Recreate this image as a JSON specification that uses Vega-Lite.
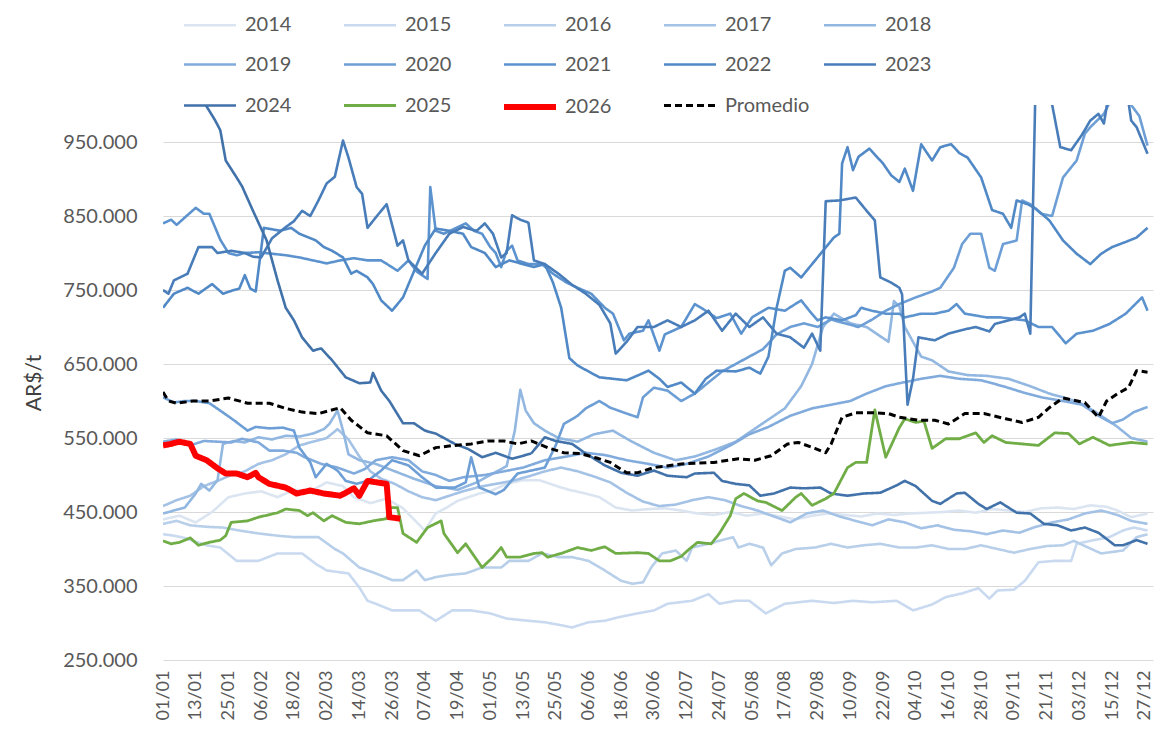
{
  "$schema": "https://vega.github.io/schema/vega-lite/v6.json",
  "width": 990,
  "height": 555,
  "autosize": {"type": "none"},
  "padding": {"left": 163, "top": 105, "right": 2, "bottom": 75},
  "background": "white",
  "config": {
    "font": "Lato",
    "view": {"stroke": null},
    "axis": {"labelFont": "Lato", "titleFont": "Lato"},
    "legend": {"labelFont": "Lato"}
  },
  "data": {"values": [
{"s":"2014","d":0,"v":440000},{"s":"2014","d":6,"v":445000},{"s":"2014","d":12,"v":436000},{"s":"2014","d":18,"v":450000},{"s":"2014","d":24,"v":470000},{"s":"2014","d":30,"v":475000},{"s":"2014","d":36,"v":478000},{"s":"2014","d":42,"v":470000},{"s":"2014","d":48,"v":480000},{"s":"2014","d":54,"v":478000},{"s":"2014","d":60,"v":490000},{"s":"2014","d":66,"v":485000},{"s":"2014","d":70,"v":470000},{"s":"2014","d":76,"v":462000},{"s":"2014","d":82,"v":468000},{"s":"2014","d":88,"v":455000},{"s":"2014","d":92,"v":440000},{"s":"2014","d":96,"v":425000},{"s":"2014","d":100,"v":448000},{"s":"2014","d":104,"v":456000},{"s":"2014","d":108,"v":465000},{"s":"2014","d":112,"v":470000},{"s":"2014","d":116,"v":475000},{"s":"2014","d":120,"v":478000},{"s":"2014","d":126,"v":488000},{"s":"2014","d":132,"v":493000},{"s":"2014","d":138,"v":493000},{"s":"2014","d":142,"v":488000},{"s":"2014","d":146,"v":483000},{"s":"2014","d":150,"v":479000},{"s":"2014","d":155,"v":475000},{"s":"2014","d":160,"v":470000},{"s":"2014","d":166,"v":456000},{"s":"2014","d":172,"v":452000},{"s":"2014","d":178,"v":454000},{"s":"2014","d":184,"v":455000},{"s":"2014","d":190,"v":452000},{"s":"2014","d":196,"v":448000},{"s":"2014","d":202,"v":446000},{"s":"2014","d":208,"v":450000},{"s":"2014","d":214,"v":445000},{"s":"2014","d":220,"v":448000},{"s":"2014","d":226,"v":444000},{"s":"2014","d":232,"v":440000},{"s":"2014","d":238,"v":445000},{"s":"2014","d":244,"v":448000},{"s":"2014","d":250,"v":446000},{"s":"2014","d":256,"v":444000},{"s":"2014","d":262,"v":448000},{"s":"2014","d":268,"v":446000},{"s":"2014","d":274,"v":448000},{"s":"2014","d":280,"v":449000},{"s":"2014","d":286,"v":450000},{"s":"2014","d":292,"v":452000},{"s":"2014","d":298,"v":449000},{"s":"2014","d":304,"v":454000},{"s":"2014","d":310,"v":452000},{"s":"2014","d":316,"v":450000},{"s":"2014","d":322,"v":455000},{"s":"2014","d":328,"v":456000},{"s":"2014","d":334,"v":454000},{"s":"2014","d":340,"v":459000},{"s":"2014","d":346,"v":457000},{"s":"2014","d":350,"v":452000},{"s":"2014","d":355,"v":443000},{"s":"2014","d":361,"v":448000},
{"s":"2015","d":0,"v":420000},{"s":"2015","d":4,"v":418000},{"s":"2015","d":8,"v":415000},{"s":"2015","d":11,"v":411000},{"s":"2015","d":16,"v":405000},{"s":"2015","d":21,"v":402000},{"s":"2015","d":27,"v":384000},{"s":"2015","d":35,"v":384000},{"s":"2015","d":42,"v":394000},{"s":"2015","d":51,"v":394000},{"s":"2015","d":56,"v":380000},{"s":"2015","d":60,"v":371000},{"s":"2015","d":68,"v":367000},{"s":"2015","d":72,"v":348000},{"s":"2015","d":75,"v":330000},{"s":"2015","d":78,"v":326000},{"s":"2015","d":84,"v":317000},{"s":"2015","d":90,"v":317000},{"s":"2015","d":94,"v":317000},{"s":"2015","d":100,"v":303000},{"s":"2015","d":106,"v":317000},{"s":"2015","d":113,"v":317000},{"s":"2015","d":120,"v":313000},{"s":"2015","d":126,"v":306000},{"s":"2015","d":134,"v":303000},{"s":"2015","d":140,"v":301000},{"s":"2015","d":146,"v":297000},{"s":"2015","d":150,"v":294000},{"s":"2015","d":156,"v":301000},{"s":"2015","d":162,"v":303000},{"s":"2015","d":166,"v":307000},{"s":"2015","d":174,"v":313000},{"s":"2015","d":180,"v":317000},{"s":"2015","d":185,"v":326000},{"s":"2015","d":194,"v":330000},{"s":"2015","d":200,"v":339000},{"s":"2015","d":204,"v":326000},{"s":"2015","d":210,"v":330000},{"s":"2015","d":215,"v":330000},{"s":"2015","d":221,"v":313000},{"s":"2015","d":228,"v":326000},{"s":"2015","d":238,"v":330000},{"s":"2015","d":246,"v":327000},{"s":"2015","d":253,"v":330000},{"s":"2015","d":260,"v":328000},{"s":"2015","d":269,"v":330000},{"s":"2015","d":275,"v":317000},{"s":"2015","d":282,"v":325000},{"s":"2015","d":287,"v":335000},{"s":"2015","d":293,"v":340000},{"s":"2015","d":299,"v":347000},{"s":"2015","d":303,"v":333000},{"s":"2015","d":306,"v":344000},{"s":"2015","d":312,"v":345000},{"s":"2015","d":316,"v":357000},{"s":"2015","d":321,"v":382000},{"s":"2015","d":327,"v":384000},{"s":"2015","d":333,"v":384000},{"s":"2015","d":335,"v":407000},{"s":"2015","d":340,"v":411000},{"s":"2015","d":347,"v":416000},{"s":"2015","d":352,"v":425000},{"s":"2015","d":356,"v":429000},{"s":"2015","d":361,"v":425000},
{"s":"2016","d":0,"v":434000},{"s":"2016","d":5,"v":438000},{"s":"2016","d":10,"v":432000},{"s":"2016","d":16,"v":430000},{"s":"2016","d":22,"v":429000},{"s":"2016","d":28,"v":425000},{"s":"2016","d":35,"v":421000},{"s":"2016","d":42,"v":418000},{"s":"2016","d":48,"v":416000},{"s":"2016","d":57,"v":416000},{"s":"2016","d":63,"v":400000},{"s":"2016","d":66,"v":394000},{"s":"2016","d":72,"v":375000},{"s":"2016","d":78,"v":367000},{"s":"2016","d":84,"v":358000},{"s":"2016","d":88,"v":358000},{"s":"2016","d":93,"v":371000},{"s":"2016","d":96,"v":358000},{"s":"2016","d":100,"v":362000},{"s":"2016","d":105,"v":365000},{"s":"2016","d":111,"v":367000},{"s":"2016","d":117,"v":375000},{"s":"2016","d":124,"v":375000},{"s":"2016","d":127,"v":384000},{"s":"2016","d":134,"v":384000},{"s":"2016","d":139,"v":394000},{"s":"2016","d":145,"v":389000},{"s":"2016","d":150,"v":389000},{"s":"2016","d":156,"v":384000},{"s":"2016","d":162,"v":371000},{"s":"2016","d":168,"v":357000},{"s":"2016","d":172,"v":353000},{"s":"2016","d":176,"v":355000},{"s":"2016","d":179,"v":375000},{"s":"2016","d":183,"v":394000},{"s":"2016","d":188,"v":398000},{"s":"2016","d":192,"v":384000},{"s":"2016","d":194,"v":402000},{"s":"2016","d":200,"v":407000},{"s":"2016","d":209,"v":416000},{"s":"2016","d":211,"v":402000},{"s":"2016","d":215,"v":407000},{"s":"2016","d":220,"v":402000},{"s":"2016","d":223,"v":378000},{"s":"2016","d":227,"v":394000},{"s":"2016","d":232,"v":400000},{"s":"2016","d":239,"v":402000},{"s":"2016","d":245,"v":407000},{"s":"2016","d":251,"v":402000},{"s":"2016","d":257,"v":405000},{"s":"2016","d":263,"v":407000},{"s":"2016","d":270,"v":402000},{"s":"2016","d":276,"v":402000},{"s":"2016","d":282,"v":405000},{"s":"2016","d":288,"v":400000},{"s":"2016","d":294,"v":400000},{"s":"2016","d":300,"v":405000},{"s":"2016","d":306,"v":400000},{"s":"2016","d":312,"v":395000},{"s":"2016","d":318,"v":400000},{"s":"2016","d":324,"v":404000},{"s":"2016","d":330,"v":405000},{"s":"2016","d":334,"v":411000},{"s":"2016","d":338,"v":404000},{"s":"2016","d":344,"v":394000},{"s":"2016","d":348,"v":396000},{"s":"2016","d":352,"v":398000},{"s":"2016","d":357,"v":416000},{"s":"2016","d":361,"v":420000},
{"s":"2017","d":0,"v":458000},{"s":"2017","d":5,"v":466000},{"s":"2017","d":10,"v":472000},{"s":"2017","d":15,"v":485000},{"s":"2017","d":20,"v":492000},{"s":"2017","d":25,"v":500000},{"s":"2017","d":30,"v":505000},{"s":"2017","d":35,"v":515000},{"s":"2017","d":40,"v":520000},{"s":"2017","d":45,"v":528000},{"s":"2017","d":50,"v":540000},{"s":"2017","d":55,"v":545000},{"s":"2017","d":60,"v":550000},{"s":"2017","d":64,"v":562000},{"s":"2017","d":68,"v":548000},{"s":"2017","d":72,"v":525000},{"s":"2017","d":76,"v":505000},{"s":"2017","d":80,"v":495000},{"s":"2017","d":85,"v":488000},{"s":"2017","d":90,"v":478000},{"s":"2017","d":95,"v":470000},{"s":"2017","d":100,"v":466000},{"s":"2017","d":105,"v":472000},{"s":"2017","d":110,"v":478000},{"s":"2017","d":116,"v":484000},{"s":"2017","d":122,"v":488000},{"s":"2017","d":128,"v":492000},{"s":"2017","d":134,"v":498000},{"s":"2017","d":140,"v":505000},{"s":"2017","d":146,"v":510000},{"s":"2017","d":152,"v":505000},{"s":"2017","d":158,"v":498000},{"s":"2017","d":164,"v":490000},{"s":"2017","d":170,"v":476000},{"s":"2017","d":176,"v":464000},{"s":"2017","d":182,"v":458000},{"s":"2017","d":188,"v":460000},{"s":"2017","d":194,"v":466000},{"s":"2017","d":200,"v":470000},{"s":"2017","d":206,"v":466000},{"s":"2017","d":212,"v":458000},{"s":"2017","d":218,"v":452000},{"s":"2017","d":224,"v":444000},{"s":"2017","d":230,"v":436000},{"s":"2017","d":236,"v":448000},{"s":"2017","d":242,"v":452000},{"s":"2017","d":248,"v":444000},{"s":"2017","d":254,"v":438000},{"s":"2017","d":260,"v":432000},{"s":"2017","d":266,"v":440000},{"s":"2017","d":272,"v":436000},{"s":"2017","d":278,"v":428000},{"s":"2017","d":284,"v":432000},{"s":"2017","d":290,"v":426000},{"s":"2017","d":296,"v":424000},{"s":"2017","d":302,"v":420000},{"s":"2017","d":308,"v":425000},{"s":"2017","d":314,"v":422000},{"s":"2017","d":320,"v":430000},{"s":"2017","d":326,"v":436000},{"s":"2017","d":332,"v":440000},{"s":"2017","d":338,"v":448000},{"s":"2017","d":344,"v":452000},{"s":"2017","d":350,"v":446000},{"s":"2017","d":355,"v":438000},{"s":"2017","d":361,"v":434000},
{"s":"2018","d":0,"v":448000},{"s":"2018","d":4,"v":452000},{"s":"2018","d":8,"v":456000},{"s":"2018","d":12,"v":475000},{"s":"2018","d":14,"v":488000},{"s":"2018","d":17,"v":479000},{"s":"2018","d":20,"v":493000},{"s":"2018","d":22,"v":542000},{"s":"2018","d":26,"v":546000},{"s":"2018","d":30,"v":544000},{"s":"2018","d":35,"v":551000},{"s":"2018","d":40,"v":548000},{"s":"2018","d":45,"v":553000},{"s":"2018","d":50,"v":552000},{"s":"2018","d":55,"v":556000},{"s":"2018","d":59,"v":562000},{"s":"2018","d":61,"v":569000},{"s":"2018","d":64,"v":587000},{"s":"2018","d":66,"v":560000},{"s":"2018","d":68,"v":528000},{"s":"2018","d":72,"v":520000},{"s":"2018","d":78,"v":515000},{"s":"2018","d":85,"v":505000},{"s":"2018","d":92,"v":495000},{"s":"2018","d":100,"v":485000},{"s":"2018","d":108,"v":480000},{"s":"2018","d":115,"v":490000},{"s":"2018","d":120,"v":500000},{"s":"2018","d":126,"v":512000},{"s":"2018","d":129,"v":560000},{"s":"2018","d":131,"v":615000},{"s":"2018","d":133,"v":587000},{"s":"2018","d":136,"v":570000},{"s":"2018","d":140,"v":560000},{"s":"2018","d":145,"v":550000},{"s":"2018","d":152,"v":545000},{"s":"2018","d":158,"v":555000},{"s":"2018","d":165,"v":560000},{"s":"2018","d":172,"v":545000},{"s":"2018","d":180,"v":530000},{"s":"2018","d":188,"v":520000},{"s":"2018","d":195,"v":525000},{"s":"2018","d":203,"v":535000},{"s":"2018","d":210,"v":545000},{"s":"2018","d":216,"v":560000},{"s":"2018","d":222,"v":575000},{"s":"2018","d":228,"v":590000},{"s":"2018","d":234,"v":620000},{"s":"2018","d":238,"v":650000},{"s":"2018","d":242,"v":700000},{"s":"2018","d":246,"v":718000},{"s":"2018","d":252,"v":705000},{"s":"2018","d":258,"v":700000},{"s":"2018","d":262,"v":690000},{"s":"2018","d":266,"v":680000},{"s":"2018","d":268,"v":735000},{"s":"2018","d":270,"v":728000},{"s":"2018","d":272,"v":700000},{"s":"2018","d":275,"v":680000},{"s":"2018","d":278,"v":660000},{"s":"2018","d":282,"v":655000},{"s":"2018","d":288,"v":640000},{"s":"2018","d":295,"v":635000},{"s":"2018","d":302,"v":634000},{"s":"2018","d":310,"v":630000},{"s":"2018","d":318,"v":620000},{"s":"2018","d":325,"v":610000},{"s":"2018","d":330,"v":605000},{"s":"2018","d":336,"v":598000},{"s":"2018","d":342,"v":585000},{"s":"2018","d":346,"v":575000},{"s":"2018","d":350,"v":565000},{"s":"2018","d":355,"v":550000},{"s":"2018","d":361,"v":545000},
{"s":"2019","d":0,"v":545000},{"s":"2019","d":5,"v":548000},{"s":"2019","d":10,"v":540000},{"s":"2019","d":15,"v":546000},{"s":"2019","d":20,"v":545000},{"s":"2019","d":25,"v":544000},{"s":"2019","d":29,"v":549000},{"s":"2019","d":35,"v":544000},{"s":"2019","d":39,"v":533000},{"s":"2019","d":44,"v":533000},{"s":"2019","d":49,"v":530000},{"s":"2019","d":52,"v":524000},{"s":"2019","d":58,"v":515000},{"s":"2019","d":64,"v":510000},{"s":"2019","d":70,"v":502000},{"s":"2019","d":74,"v":508000},{"s":"2019","d":78,"v":520000},{"s":"2019","d":84,"v":524000},{"s":"2019","d":90,"v":520000},{"s":"2019","d":95,"v":505000},{"s":"2019","d":100,"v":500000},{"s":"2019","d":105,"v":492000},{"s":"2019","d":110,"v":497000},{"s":"2019","d":118,"v":500000},{"s":"2019","d":125,"v":505000},{"s":"2019","d":132,"v":510000},{"s":"2019","d":140,"v":520000},{"s":"2019","d":148,"v":525000},{"s":"2019","d":155,"v":530000},{"s":"2019","d":162,"v":527000},{"s":"2019","d":170,"v":520000},{"s":"2019","d":178,"v":515000},{"s":"2019","d":185,"v":510000},{"s":"2019","d":192,"v":515000},{"s":"2019","d":200,"v":525000},{"s":"2019","d":208,"v":540000},{"s":"2019","d":215,"v":555000},{"s":"2019","d":222,"v":565000},{"s":"2019","d":230,"v":580000},{"s":"2019","d":238,"v":590000},{"s":"2019","d":245,"v":595000},{"s":"2019","d":252,"v":600000},{"s":"2019","d":258,"v":610000},{"s":"2019","d":265,"v":620000},{"s":"2019","d":270,"v":624000},{"s":"2019","d":278,"v":630000},{"s":"2019","d":285,"v":634000},{"s":"2019","d":292,"v":630000},{"s":"2019","d":300,"v":628000},{"s":"2019","d":308,"v":620000},{"s":"2019","d":315,"v":612000},{"s":"2019","d":322,"v":605000},{"s":"2019","d":330,"v":600000},{"s":"2019","d":337,"v":595000},{"s":"2019","d":343,"v":580000},{"s":"2019","d":348,"v":570000},{"s":"2019","d":352,"v":575000},{"s":"2019","d":356,"v":585000},{"s":"2019","d":361,"v":592000},
{"s":"2020","d":0,"v":605000},{"s":"2020","d":4,"v":598000},{"s":"2020","d":8,"v":600000},{"s":"2020","d":12,"v":600000},{"s":"2020","d":17,"v":597000},{"s":"2020","d":21,"v":587000},{"s":"2020","d":26,"v":574000},{"s":"2020","d":31,"v":560000},{"s":"2020","d":34,"v":565000},{"s":"2020","d":39,"v":563000},{"s":"2020","d":44,"v":564000},{"s":"2020","d":48,"v":560000},{"s":"2020","d":50,"v":537000},{"s":"2020","d":54,"v":517000},{"s":"2020","d":56,"v":497000},{"s":"2020","d":60,"v":515000},{"s":"2020","d":64,"v":506000},{"s":"2020","d":67,"v":492000},{"s":"2020","d":71,"v":488000},{"s":"2020","d":75,"v":492000},{"s":"2020","d":80,"v":506000},{"s":"2020","d":84,"v":520000},{"s":"2020","d":90,"v":513000},{"s":"2020","d":95,"v":497000},{"s":"2020","d":100,"v":483000},{"s":"2020","d":107,"v":483000},{"s":"2020","d":111,"v":490000},{"s":"2020","d":113,"v":524000},{"s":"2020","d":116,"v":483000},{"s":"2020","d":122,"v":474000},{"s":"2020","d":125,"v":480000},{"s":"2020","d":130,"v":502000},{"s":"2020","d":135,"v":506000},{"s":"2020","d":140,"v":510000},{"s":"2020","d":144,"v":540000},{"s":"2020","d":147,"v":569000},{"s":"2020","d":152,"v":580000},{"s":"2020","d":155,"v":590000},{"s":"2020","d":160,"v":600000},{"s":"2020","d":164,"v":591000},{"s":"2020","d":170,"v":583000},{"s":"2020","d":174,"v":578000},{"s":"2020","d":176,"v":605000},{"s":"2020","d":180,"v":618000},{"s":"2020","d":185,"v":614000},{"s":"2020","d":190,"v":600000},{"s":"2020","d":195,"v":610000},{"s":"2020","d":200,"v":625000},{"s":"2020","d":205,"v":640000},{"s":"2020","d":210,"v":650000},{"s":"2020","d":215,"v":660000},{"s":"2020","d":220,"v":670000},{"s":"2020","d":225,"v":690000},{"s":"2020","d":230,"v":700000},{"s":"2020","d":235,"v":705000},{"s":"2020","d":240,"v":700000},{"s":"2020","d":245,"v":710000},{"s":"2020","d":250,"v":705000},{"s":"2020","d":255,"v":700000},{"s":"2020","d":260,"v":710000},{"s":"2020","d":265,"v":722000},{"s":"2020","d":270,"v":731000},{"s":"2020","d":276,"v":740000},{"s":"2020","d":282,"v":748000},{"s":"2020","d":285,"v":753000},{"s":"2020","d":290,"v":780000},{"s":"2020","d":293,"v":812000},{"s":"2020","d":296,"v":826000},{"s":"2020","d":300,"v":826000},{"s":"2020","d":303,"v":780000},{"s":"2020","d":305,"v":776000},{"s":"2020","d":308,"v":812000},{"s":"2020","d":313,"v":817000},{"s":"2020","d":315,"v":871000},{"s":"2020","d":318,"v":866000},{"s":"2020","d":322,"v":853000},{"s":"2020","d":326,"v":850000},{"s":"2020","d":330,"v":902000},{"s":"2020","d":335,"v":925000},{"s":"2020","d":338,"v":961000},{"s":"2020","d":340,"v":970000},{"s":"2020","d":345,"v":988000},{"s":"2020","d":348,"v":1010000},{"s":"2020","d":352,"v":1020000},{"s":"2020","d":355,"v":1000000},{"s":"2020","d":358,"v":985000},{"s":"2020","d":361,"v":945000},
{"s":"2021","d":0,"v":840000},{"s":"2021","d":3,"v":845000},{"s":"2021","d":5,"v":838000},{"s":"2021","d":8,"v":848000},{"s":"2021","d":12,"v":861000},{"s":"2021","d":15,"v":853000},{"s":"2021","d":17,"v":853000},{"s":"2021","d":21,"v":818000},{"s":"2021","d":24,"v":800000},{"s":"2021","d":27,"v":797000},{"s":"2021","d":30,"v":800000},{"s":"2021","d":35,"v":801000},{"s":"2021","d":40,"v":799000},{"s":"2021","d":45,"v":797000},{"s":"2021","d":50,"v":794000},{"s":"2021","d":55,"v":790000},{"s":"2021","d":60,"v":786000},{"s":"2021","d":65,"v":790000},{"s":"2021","d":70,"v":793000},{"s":"2021","d":75,"v":790000},{"s":"2021","d":80,"v":790000},{"s":"2021","d":86,"v":776000},{"s":"2021","d":90,"v":790000},{"s":"2021","d":93,"v":775000},{"s":"2021","d":95,"v":770000},{"s":"2021","d":97,"v":765000},{"s":"2021","d":98,"v":889000},{"s":"2021","d":100,"v":830000},{"s":"2021","d":103,"v":826000},{"s":"2021","d":107,"v":833000},{"s":"2021","d":111,"v":840000},{"s":"2021","d":114,"v":830000},{"s":"2021","d":117,"v":826000},{"s":"2021","d":120,"v":808000},{"s":"2021","d":122,"v":800000},{"s":"2021","d":124,"v":781000},{"s":"2021","d":126,"v":803000},{"s":"2021","d":128,"v":810000},{"s":"2021","d":130,"v":790000},{"s":"2021","d":134,"v":785000},{"s":"2021","d":139,"v":785000},{"s":"2021","d":143,"v":772000},{"s":"2021","d":148,"v":760000},{"s":"2021","d":152,"v":753000},{"s":"2021","d":157,"v":745000},{"s":"2021","d":162,"v":726000},{"s":"2021","d":165,"v":718000},{"s":"2021","d":167,"v":700000},{"s":"2021","d":169,"v":682000},{"s":"2021","d":171,"v":691000},{"s":"2021","d":176,"v":695000},{"s":"2021","d":178,"v":709000},{"s":"2021","d":182,"v":668000},{"s":"2021","d":184,"v":690000},{"s":"2021","d":190,"v":700000},{"s":"2021","d":195,"v":731000},{"s":"2021","d":199,"v":722000},{"s":"2021","d":203,"v":712000},{"s":"2021","d":208,"v":718000},{"s":"2021","d":212,"v":691000},{"s":"2021","d":216,"v":713000},{"s":"2021","d":222,"v":726000},{"s":"2021","d":228,"v":722000},{"s":"2021","d":234,"v":736000},{"s":"2021","d":237,"v":722000},{"s":"2021","d":240,"v":709000},{"s":"2021","d":243,"v":713000},{"s":"2021","d":249,"v":709000},{"s":"2021","d":254,"v":716000},{"s":"2021","d":256,"v":726000},{"s":"2021","d":260,"v":722000},{"s":"2021","d":265,"v":718000},{"s":"2021","d":270,"v":718000},{"s":"2021","d":272,"v":713000},{"s":"2021","d":278,"v":718000},{"s":"2021","d":283,"v":718000},{"s":"2021","d":288,"v":722000},{"s":"2021","d":291,"v":731000},{"s":"2021","d":294,"v":718000},{"s":"2021","d":302,"v":713000},{"s":"2021","d":307,"v":713000},{"s":"2021","d":316,"v":709000},{"s":"2021","d":321,"v":700000},{"s":"2021","d":326,"v":700000},{"s":"2021","d":331,"v":678000},{"s":"2021","d":335,"v":691000},{"s":"2021","d":341,"v":695000},{"s":"2021","d":347,"v":704000},{"s":"2021","d":353,"v":718000},{"s":"2021","d":359,"v":740000},{"s":"2021","d":361,"v":722000},
{"s":"2022","d":0,"v":726000},{"s":"2022","d":4,"v":745000},{"s":"2022","d":9,"v":753000},{"s":"2022","d":13,"v":745000},{"s":"2022","d":18,"v":758000},{"s":"2022","d":22,"v":745000},{"s":"2022","d":26,"v":750000},{"s":"2022","d":28,"v":752000},{"s":"2022","d":30,"v":770000},{"s":"2022","d":32,"v":752000},{"s":"2022","d":34,"v":748000},{"s":"2022","d":37,"v":834000},{"s":"2022","d":43,"v":830000},{"s":"2022","d":47,"v":834000},{"s":"2022","d":50,"v":826000},{"s":"2022","d":56,"v":817000},{"s":"2022","d":59,"v":808000},{"s":"2022","d":62,"v":803000},{"s":"2022","d":66,"v":794000},{"s":"2022","d":69,"v":772000},{"s":"2022","d":71,"v":776000},{"s":"2022","d":75,"v":767000},{"s":"2022","d":77,"v":758000},{"s":"2022","d":80,"v":736000},{"s":"2022","d":84,"v":722000},{"s":"2022","d":88,"v":740000},{"s":"2022","d":92,"v":775000},{"s":"2022","d":96,"v":810000},{"s":"2022","d":100,"v":833000},{"s":"2022","d":105,"v":830000},{"s":"2022","d":110,"v":826000},{"s":"2022","d":113,"v":808000},{"s":"2022","d":118,"v":800000},{"s":"2022","d":122,"v":781000},{"s":"2022","d":127,"v":790000},{"s":"2022","d":132,"v":785000},{"s":"2022","d":136,"v":781000},{"s":"2022","d":140,"v":785000},{"s":"2022","d":143,"v":760000},{"s":"2022","d":146,"v":726000},{"s":"2022","d":149,"v":658000},{"s":"2022","d":152,"v":648000},{"s":"2022","d":156,"v":640000},{"s":"2022","d":160,"v":632000},{"s":"2022","d":165,"v":630000},{"s":"2022","d":170,"v":628000},{"s":"2022","d":175,"v":636000},{"s":"2022","d":178,"v":641000},{"s":"2022","d":182,"v":630000},{"s":"2022","d":185,"v":619000},{"s":"2022","d":190,"v":625000},{"s":"2022","d":195,"v":610000},{"s":"2022","d":199,"v":630000},{"s":"2022","d":203,"v":641000},{"s":"2022","d":210,"v":640000},{"s":"2022","d":215,"v":645000},{"s":"2022","d":219,"v":637000},{"s":"2022","d":222,"v":660000},{"s":"2022","d":225,"v":726000},{"s":"2022","d":228,"v":776000},{"s":"2022","d":230,"v":780000},{"s":"2022","d":234,"v":767000},{"s":"2022","d":238,"v":785000},{"s":"2022","d":242,"v":803000},{"s":"2022","d":246,"v":821000},{"s":"2022","d":248,"v":826000},{"s":"2022","d":249,"v":921000},{"s":"2022","d":251,"v":943000},{"s":"2022","d":253,"v":912000},{"s":"2022","d":255,"v":930000},{"s":"2022","d":259,"v":941000},{"s":"2022","d":264,"v":921000},{"s":"2022","d":267,"v":905000},{"s":"2022","d":270,"v":896000},{"s":"2022","d":272,"v":914000},{"s":"2022","d":275,"v":884000},{"s":"2022","d":278,"v":947000},{"s":"2022","d":282,"v":925000},{"s":"2022","d":285,"v":943000},{"s":"2022","d":289,"v":947000},{"s":"2022","d":292,"v":935000},{"s":"2022","d":295,"v":929000},{"s":"2022","d":300,"v":902000},{"s":"2022","d":302,"v":880000},{"s":"2022","d":304,"v":858000},{"s":"2022","d":308,"v":853000},{"s":"2022","d":311,"v":834000},{"s":"2022","d":313,"v":871000},{"s":"2022","d":317,"v":866000},{"s":"2022","d":320,"v":860000},{"s":"2022","d":325,"v":844000},{"s":"2022","d":330,"v":817000},{"s":"2022","d":335,"v":799000},{"s":"2022","d":340,"v":785000},{"s":"2022","d":344,"v":799000},{"s":"2022","d":348,"v":808000},{"s":"2022","d":353,"v":815000},{"s":"2022","d":357,"v":821000},{"s":"2022","d":361,"v":834000},
{"s":"2023","d":0,"v":750000},{"s":"2023","d":2,"v":745000},{"s":"2023","d":4,"v":763000},{"s":"2023","d":9,"v":772000},{"s":"2023","d":13,"v":808000},{"s":"2023","d":18,"v":808000},{"s":"2023","d":20,"v":800000},{"s":"2023","d":25,"v":803000},{"s":"2023","d":30,"v":800000},{"s":"2023","d":33,"v":795000},{"s":"2023","d":36,"v":794000},{"s":"2023","d":40,"v":820000},{"s":"2023","d":45,"v":835000},{"s":"2023","d":48,"v":843000},{"s":"2023","d":51,"v":857000},{"s":"2023","d":54,"v":850000},{"s":"2023","d":57,"v":871000},{"s":"2023","d":60,"v":894000},{"s":"2023","d":63,"v":903000},{"s":"2023","d":66,"v":952000},{"s":"2023","d":68,"v":929000},{"s":"2023","d":71,"v":889000},{"s":"2023","d":73,"v":880000},{"s":"2023","d":75,"v":834000},{"s":"2023","d":78,"v":848000},{"s":"2023","d":82,"v":866000},{"s":"2023","d":86,"v":810000},{"s":"2023","d":88,"v":817000},{"s":"2023","d":90,"v":790000},{"s":"2023","d":95,"v":772000},{"s":"2023","d":100,"v":800000},{"s":"2023","d":105,"v":826000},{"s":"2023","d":110,"v":835000},{"s":"2023","d":115,"v":830000},{"s":"2023","d":118,"v":840000},{"s":"2023","d":121,"v":826000},{"s":"2023","d":124,"v":794000},{"s":"2023","d":126,"v":800000},{"s":"2023","d":128,"v":851000},{"s":"2023","d":131,"v":845000},{"s":"2023","d":134,"v":841000},{"s":"2023","d":136,"v":790000},{"s":"2023","d":140,"v":785000},{"s":"2023","d":145,"v":772000},{"s":"2023","d":150,"v":757000},{"s":"2023","d":155,"v":745000},{"s":"2023","d":160,"v":730000},{"s":"2023","d":164,"v":705000},{"s":"2023","d":166,"v":664000},{"s":"2023","d":170,"v":680000},{"s":"2023","d":174,"v":700000},{"s":"2023","d":180,"v":700000},{"s":"2023","d":185,"v":709000},{"s":"2023","d":190,"v":700000},{"s":"2023","d":195,"v":709000},{"s":"2023","d":200,"v":722000},{"s":"2023","d":205,"v":695000},{"s":"2023","d":210,"v":718000},{"s":"2023","d":215,"v":700000},{"s":"2023","d":220,"v":713000},{"s":"2023","d":225,"v":691000},{"s":"2023","d":230,"v":686000},{"s":"2023","d":235,"v":672000},{"s":"2023","d":238,"v":691000},{"s":"2023","d":241,"v":668000},{"s":"2023","d":243,"v":870000},{"s":"2023","d":248,"v":871000},{"s":"2023","d":254,"v":875000},{"s":"2023","d":258,"v":857000},{"s":"2023","d":261,"v":844000},{"s":"2023","d":263,"v":767000},{"s":"2023","d":267,"v":760000},{"s":"2023","d":270,"v":753000},{"s":"2023","d":271,"v":744000},{"s":"2023","d":273,"v":595000},{"s":"2023","d":275,"v":630000},{"s":"2023","d":277,"v":686000},{"s":"2023","d":283,"v":682000},{"s":"2023","d":288,"v":691000},{"s":"2023","d":293,"v":696000},{"s":"2023","d":298,"v":700000},{"s":"2023","d":303,"v":694000},{"s":"2023","d":305,"v":704000},{"s":"2023","d":310,"v":709000},{"s":"2023","d":314,"v":713000},{"s":"2023","d":316,"v":718000},{"s":"2023","d":318,"v":691000},{"s":"2023","d":320,"v":1040000},{"s":"2023","d":325,"v":1020000},{"s":"2023","d":329,"v":943000},{"s":"2023","d":333,"v":939000},{"s":"2023","d":337,"v":960000},{"s":"2023","d":340,"v":979000},{"s":"2023","d":343,"v":988000},{"s":"2023","d":345,"v":975000},{"s":"2023","d":347,"v":1020000},{"s":"2023","d":353,"v":1030000},{"s":"2023","d":355,"v":979000},{"s":"2023","d":357,"v":970000},{"s":"2023","d":359,"v":952000},{"s":"2023","d":361,"v":934000},
{"s":"2024","d":0,"v":1100000},{"s":"2024","d":8,"v":1060000},{"s":"2024","d":14,"v":1010000},{"s":"2024","d":16,"v":998000},{"s":"2024","d":19,"v":980000},{"s":"2024","d":21,"v":966000},{"s":"2024","d":23,"v":925000},{"s":"2024","d":27,"v":902000},{"s":"2024","d":29,"v":890000},{"s":"2024","d":33,"v":857000},{"s":"2024","d":38,"v":817000},{"s":"2024","d":42,"v":763000},{"s":"2024","d":45,"v":726000},{"s":"2024","d":48,"v":709000},{"s":"2024","d":51,"v":686000},{"s":"2024","d":55,"v":668000},{"s":"2024","d":58,"v":671000},{"s":"2024","d":62,"v":655000},{"s":"2024","d":67,"v":632000},{"s":"2024","d":72,"v":624000},{"s":"2024","d":76,"v":625000},{"s":"2024","d":77,"v":638000},{"s":"2024","d":80,"v":614000},{"s":"2024","d":83,"v":600000},{"s":"2024","d":85,"v":588000},{"s":"2024","d":88,"v":570000},{"s":"2024","d":92,"v":570000},{"s":"2024","d":96,"v":560000},{"s":"2024","d":100,"v":556000},{"s":"2024","d":104,"v":548000},{"s":"2024","d":107,"v":542000},{"s":"2024","d":112,"v":535000},{"s":"2024","d":117,"v":524000},{"s":"2024","d":122,"v":530000},{"s":"2024","d":128,"v":522000},{"s":"2024","d":135,"v":529000},{"s":"2024","d":140,"v":551000},{"s":"2024","d":144,"v":546000},{"s":"2024","d":150,"v":542000},{"s":"2024","d":155,"v":529000},{"s":"2024","d":162,"v":513000},{"s":"2024","d":168,"v":503000},{"s":"2024","d":174,"v":499000},{"s":"2024","d":180,"v":506000},{"s":"2024","d":185,"v":499000},{"s":"2024","d":192,"v":497000},{"s":"2024","d":195,"v":502000},{"s":"2024","d":202,"v":503000},{"s":"2024","d":205,"v":492000},{"s":"2024","d":210,"v":488000},{"s":"2024","d":215,"v":486000},{"s":"2024","d":219,"v":472000},{"s":"2024","d":224,"v":475000},{"s":"2024","d":230,"v":483000},{"s":"2024","d":235,"v":482000},{"s":"2024","d":241,"v":483000},{"s":"2024","d":245,"v":475000},{"s":"2024","d":251,"v":472000},{"s":"2024","d":257,"v":475000},{"s":"2024","d":263,"v":476000},{"s":"2024","d":269,"v":486000},{"s":"2024","d":272,"v":492000},{"s":"2024","d":276,"v":485000},{"s":"2024","d":282,"v":465000},{"s":"2024","d":285,"v":461000},{"s":"2024","d":291,"v":475000},{"s":"2024","d":294,"v":476000},{"s":"2024","d":299,"v":461000},{"s":"2024","d":302,"v":454000},{"s":"2024","d":307,"v":463000},{"s":"2024","d":313,"v":449000},{"s":"2024","d":318,"v":448000},{"s":"2024","d":323,"v":434000},{"s":"2024","d":328,"v":432000},{"s":"2024","d":333,"v":425000},{"s":"2024","d":338,"v":429000},{"s":"2024","d":343,"v":422000},{"s":"2024","d":349,"v":405000},{"s":"2024","d":352,"v":405000},{"s":"2024","d":357,"v":412000},{"s":"2024","d":361,"v":407000},
{"s":"2025","d":0,"v":411000},{"s":"2025","d":3,"v":407000},{"s":"2025","d":6,"v":409000},{"s":"2025","d":10,"v":415000},{"s":"2025","d":13,"v":405000},{"s":"2025","d":17,"v":409000},{"s":"2025","d":21,"v":412000},{"s":"2025","d":23,"v":418000},{"s":"2025","d":25,"v":436000},{"s":"2025","d":31,"v":438000},{"s":"2025","d":35,"v":443000},{"s":"2025","d":42,"v":449000},{"s":"2025","d":45,"v":454000},{"s":"2025","d":50,"v":452000},{"s":"2025","d":53,"v":445000},{"s":"2025","d":55,"v":449000},{"s":"2025","d":59,"v":438000},{"s":"2025","d":62,"v":445000},{"s":"2025","d":67,"v":436000},{"s":"2025","d":72,"v":434000},{"s":"2025","d":77,"v":438000},{"s":"2025","d":82,"v":441000},{"s":"2025","d":83,"v":456000},{"s":"2025","d":86,"v":456000},{"s":"2025","d":88,"v":421000},{"s":"2025","d":93,"v":409000},{"s":"2025","d":97,"v":429000},{"s":"2025","d":102,"v":438000},{"s":"2025","d":103,"v":421000},{"s":"2025","d":108,"v":395000},{"s":"2025","d":111,"v":407000},{"s":"2025","d":117,"v":375000},{"s":"2025","d":121,"v":389000},{"s":"2025","d":124,"v":402000},{"s":"2025","d":126,"v":389000},{"s":"2025","d":131,"v":389000},{"s":"2025","d":136,"v":394000},{"s":"2025","d":139,"v":395000},{"s":"2025","d":141,"v":389000},{"s":"2025","d":146,"v":394000},{"s":"2025","d":152,"v":402000},{"s":"2025","d":157,"v":398000},{"s":"2025","d":162,"v":403000},{"s":"2025","d":166,"v":394000},{"s":"2025","d":174,"v":395000},{"s":"2025","d":178,"v":394000},{"s":"2025","d":182,"v":384000},{"s":"2025","d":186,"v":384000},{"s":"2025","d":190,"v":390000},{"s":"2025","d":193,"v":400000},{"s":"2025","d":196,"v":409000},{"s":"2025","d":201,"v":407000},{"s":"2025","d":204,"v":421000},{"s":"2025","d":208,"v":445000},{"s":"2025","d":210,"v":468000},{"s":"2025","d":213,"v":475000},{"s":"2025","d":218,"v":465000},{"s":"2025","d":221,"v":463000},{"s":"2025","d":227,"v":452000},{"s":"2025","d":232,"v":470000},{"s":"2025","d":234,"v":475000},{"s":"2025","d":238,"v":459000},{"s":"2025","d":243,"v":468000},{"s":"2025","d":246,"v":475000},{"s":"2025","d":251,"v":510000},{"s":"2025","d":254,"v":517000},{"s":"2025","d":258,"v":517000},{"s":"2025","d":261,"v":588000},{"s":"2025","d":265,"v":524000},{"s":"2025","d":270,"v":564000},{"s":"2025","d":272,"v":576000},{"s":"2025","d":276,"v":571000},{"s":"2025","d":279,"v":573000},{"s":"2025","d":282,"v":536000},{"s":"2025","d":287,"v":549000},{"s":"2025","d":292,"v":549000},{"s":"2025","d":298,"v":557000},{"s":"2025","d":301,"v":544000},{"s":"2025","d":304,"v":553000},{"s":"2025","d":309,"v":544000},{"s":"2025","d":315,"v":542000},{"s":"2025","d":321,"v":540000},{"s":"2025","d":327,"v":557000},{"s":"2025","d":332,"v":556000},{"s":"2025","d":336,"v":542000},{"s":"2025","d":341,"v":551000},{"s":"2025","d":347,"v":540000},{"s":"2025","d":355,"v":544000},{"s":"2025","d":361,"v":542000},
{"s":"2026","d":0,"v":540000},{"s":"2026","d":3,"v":542000},{"s":"2026","d":6,"v":545000},{"s":"2026","d":10,"v":542000},{"s":"2026","d":12,"v":526000},{"s":"2026","d":16,"v":520000},{"s":"2026","d":20,"v":509000},{"s":"2026","d":23,"v":502000},{"s":"2026","d":27,"v":502000},{"s":"2026","d":31,"v":497000},{"s":"2026","d":34,"v":503000},{"s":"2026","d":35,"v":497000},{"s":"2026","d":39,"v":488000},{"s":"2026","d":45,"v":483000},{"s":"2026","d":49,"v":475000},{"s":"2026","d":54,"v":479000},{"s":"2026","d":59,"v":475000},{"s":"2026","d":65,"v":472000},{"s":"2026","d":70,"v":482000},{"s":"2026","d":72,"v":472000},{"s":"2026","d":75,"v":492000},{"s":"2026","d":82,"v":488000},{"s":"2026","d":83,"v":443000},{"s":"2026","d":87,"v":441000},
{"s":"Promedio","d":0,"v":612000},{"s":"Promedio","d":2,"v":600000},{"s":"Promedio","d":5,"v":597000},{"s":"Promedio","d":11,"v":600000},{"s":"Promedio","d":17,"v":600000},{"s":"Promedio","d":24,"v":604000},{"s":"Promedio","d":31,"v":597000},{"s":"Promedio","d":39,"v":597000},{"s":"Promedio","d":45,"v":590000},{"s":"Promedio","d":51,"v":585000},{"s":"Promedio","d":57,"v":583000},{"s":"Promedio","d":65,"v":591000},{"s":"Promedio","d":69,"v":574000},{"s":"Promedio","d":75,"v":557000},{"s":"Promedio","d":82,"v":553000},{"s":"Promedio","d":88,"v":533000},{"s":"Promedio","d":94,"v":526000},{"s":"Promedio","d":100,"v":537000},{"s":"Promedio","d":107,"v":540000},{"s":"Promedio","d":113,"v":542000},{"s":"Promedio","d":119,"v":546000},{"s":"Promedio","d":125,"v":546000},{"s":"Promedio","d":130,"v":542000},{"s":"Promedio","d":135,"v":546000},{"s":"Promedio","d":141,"v":537000},{"s":"Promedio","d":147,"v":530000},{"s":"Promedio","d":153,"v":529000},{"s":"Promedio","d":159,"v":523000},{"s":"Promedio","d":164,"v":517000},{"s":"Promedio","d":170,"v":503000},{"s":"Promedio","d":174,"v":503000},{"s":"Promedio","d":180,"v":510000},{"s":"Promedio","d":190,"v":515000},{"s":"Promedio","d":202,"v":517000},{"s":"Promedio","d":211,"v":522000},{"s":"Promedio","d":217,"v":520000},{"s":"Promedio","d":223,"v":526000},{"s":"Promedio","d":229,"v":542000},{"s":"Promedio","d":233,"v":544000},{"s":"Promedio","d":239,"v":536000},{"s":"Promedio","d":243,"v":530000},{"s":"Promedio","d":245,"v":542000},{"s":"Promedio","d":249,"v":578000},{"s":"Promedio","d":254,"v":584000},{"s":"Promedio","d":261,"v":584000},{"s":"Promedio","d":266,"v":583000},{"s":"Promedio","d":270,"v":578000},{"s":"Promedio","d":277,"v":574000},{"s":"Promedio","d":283,"v":574000},{"s":"Promedio","d":288,"v":569000},{"s":"Promedio","d":294,"v":583000},{"s":"Promedio","d":301,"v":583000},{"s":"Promedio","d":309,"v":576000},{"s":"Promedio","d":315,"v":571000},{"s":"Promedio","d":321,"v":578000},{"s":"Promedio","d":325,"v":591000},{"s":"Promedio","d":330,"v":604000},{"s":"Promedio","d":338,"v":598000},{"s":"Promedio","d":343,"v":578000},{"s":"Promedio","d":346,"v":600000},{"s":"Promedio","d":350,"v":610000},{"s":"Promedio","d":354,"v":618000},{"s":"Promedio","d":357,"v":641000},{"s":"Promedio","d":361,"v":639000}
  ]},
  "encoding": {
    "x": {
      "field": "d", "type": "quantitative",
      "scale": {"domain": [0, 363], "nice": false, "zero": false},
      "axis": {
        "title": null,
        "values": [0,12,24,36,48,60,72,84,96,108,120,132,144,156,168,180,192,204,216,228,240,252,264,276,288,300,312,324,336,348,360],
        "labelExpr": "timeFormat(datetime(2001, 0, 1 + datum.value), '%d/%m')",
        "labelAngle": -90, "labelFontSize": 18, "labelColor": "#595959",
        "labelPadding": 10, "labelOverlap": false, "labelFlush": false,
        "domain": false, "ticks": false, "grid": false
      }
    },
    "y": {
      "field": "v", "type": "quantitative",
      "scale": {"domain": [250000, 1000000], "nice": false, "zero": false},
      "axis": {
        "title": "AR$/t",
        "values": [250000,350000,450000,550000,650000,750000,850000,950000],
        "labelExpr": "replace(format(datum.value, ','), ',', '.')",
        "labelFontSize": 20, "labelColor": "#595959", "labelPadding": 26,
        "titleFontSize": 21, "titleColor": "#404040", "titleFontWeight": "normal", "titlePadding": 18,
        "domain": false, "ticks": false,
        "grid": true, "gridColor": "#d9d9d9", "gridWidth": 1.2
      }
    },
    "color": {
      "field": "s", "type": "nominal",
      "scale": {
        "domain": ["2014","2015","2016","2017","2018","2019","2020","2021","2022","2023","2024","2025","2026","Promedio"],
        "range": ["#dbe5f1","#c9daf0","#b8cfea","#a4c2e6","#92b7e1","#80abdc","#6d9fd6","#5c93cf","#5189c7","#497dba","#4272aa","#70ad47","#ff0000","#000000"]
      },
      "legend": {"orient": "none", "direction": "horizontal", "legendX": 18, "legendY": -109, "columns": 5, "symbolType": "stroke", "symbolSize": 2704, "labelFontSize": 20, "labelColor": "#595959", "title": null, "gridAlign": "all", "columnPadding": 2, "rowPadding": 0, "labelOffset": 6, "padding": 0}
    },
    "strokeWidth": {
      "field": "s", "type": "nominal",
      "scale": {
        "type": "ordinal",
        "domain": ["2014","2015","2016","2017","2018","2019","2020","2021","2022","2023","2024","2025","2026","Promedio"],
        "range": [2.6,2.6,2.6,2.6,2.6,2.6,2.6,2.6,2.6,2.6,2.6,2.8,6,3]
      },
      "legend": {"orient": "none", "direction": "horizontal", "legendX": 18, "legendY": -109, "columns": 5, "symbolType": "stroke", "symbolSize": 2704, "labelFontSize": 20, "labelColor": "#595959", "title": null, "gridAlign": "all", "columnPadding": 2, "rowPadding": 0, "labelOffset": 6, "padding": 0}
    },
    "strokeDash": {
      "field": "s", "type": "nominal",
      "scale": {
        "domain": ["2014","2015","2016","2017","2018","2019","2020","2021","2022","2023","2024","2025","2026","Promedio"],
        "range": [[1,0],[1,0],[1,0],[1,0],[1,0],[1,0],[1,0],[1,0],[1,0],[1,0],[1,0],[1,0],[1,0],[7,4]]
      },
      "legend": {"orient": "none", "direction": "horizontal", "legendX": 18, "legendY": -109, "columns": 5, "symbolType": "stroke", "symbolSize": 2704, "labelFontSize": 20, "labelColor": "#595959", "title": null, "gridAlign": "all", "columnPadding": 2, "rowPadding": 0, "labelOffset": 6, "padding": 0}
    }
  },
  "layer": [
    {"transform": [{"filter": {"field": "s", "oneOf": ["2014","2015","2016","2017","2018","2019","2020","2021","2022","2023","2024"]}}],
     "mark": {"type": "line", "clip": true, "strokeJoin": "round"}},
    {"transform": [{"filter": {"field": "s", "equal": "2025"}}],
     "mark": {"type": "line", "clip": true, "strokeJoin": "round"}},
    {"transform": [{"filter": {"field": "s", "equal": "Promedio"}}],
     "mark": {"type": "line", "clip": true, "strokeJoin": "round"}},
    {"transform": [{"filter": {"field": "s", "equal": "2026"}}],
     "mark": {"type": "line", "clip": true, "strokeJoin": "round"}}
  ]
}
